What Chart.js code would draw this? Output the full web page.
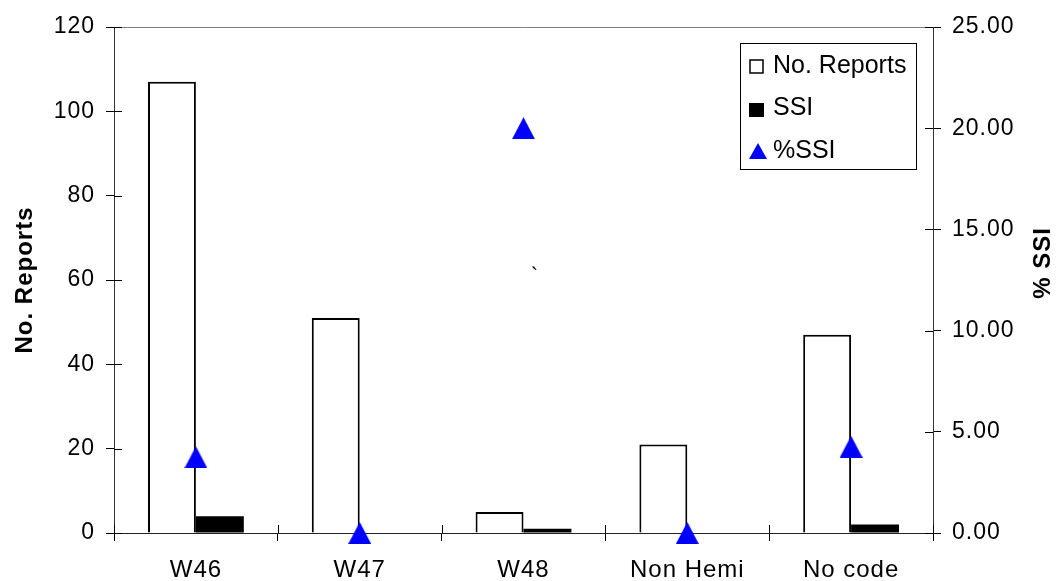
<!DOCTYPE html>
<html><head><meta charset="utf-8">
<script src="https://cdn.jsdelivr.net/npm/chart.js@4/dist/chart.umd.min.js"></script>
<style>html,body{margin:0;padding:0;background:#fff}canvas{display:block}</style>
</head><body>
<canvas id="c" width="1057" height="581"></canvas>
<script>
const categories = ['W46', 'W47', 'W48', 'Non Hemi', 'No code'];
const reports = [107, 51, 5, 21, 47];
const ssi = [4, 0, 1, 0, 2];
const pctSsi = [3.74, 0.00, 20.00, 0.00, 4.26];
const seriesNames = ['No. Reports', 'SSI', '%SSI'];
const leftAxisTitle = 'No. Reports';
const rightAxisTitle = '% SSI';
const strayMark = '`';

const FAM = '"Liberation Sans", Arial, sans-serif';
const BLUE = '#0000FF';

function triImg(w, h) {
  const c = document.createElement('canvas');
  c.width = w; c.height = h;
  const g = c.getContext('2d');
  g.fillStyle = BLUE;
  g.beginPath();
  g.moveTo(w / 2, 0); g.lineTo(w, h); g.lineTo(0, h); g.closePath();
  g.fill();
  return c;
}
const tri = triImg(23, 22);

const spacingPlugin = {
  id: 'spacing',
  beforeLayout(chart) { chart.ctx.letterSpacing = '1px'; },
  beforeDraw(chart) { chart.ctx.letterSpacing = '1px'; }
};

const decorPlugin = {
  id: 'decor',
  afterDraw(chart) {
    const ctx = chart.ctx;
    const a = chart.chartArea;
    const y = chart.scales.y, y2 = chart.scales.y2;
    ctx.save();
    ctx.strokeStyle = '#808080'; ctx.lineWidth = 1;
    ctx.beginPath(); ctx.moveTo(a.left, a.top + 0.5); ctx.lineTo(a.right, a.top + 0.5); ctx.stroke();
    ctx.strokeStyle = '#000';
    ctx.beginPath();
    y.ticks.forEach(t => { const p = Math.round(y.getPixelForValue(t.value)) + 0.5; ctx.moveTo(a.left, p); ctx.lineTo(a.left + 8, p); });
    y2.ticks.forEach(t => { const p = Math.round(y2.getPixelForValue(t.value)) + 0.5; ctx.moveTo(a.right, p); ctx.lineTo(a.right - 8, p); });
    const n = categories.length;
    for (let i = 0; i <= n; i++) {
      const p = Math.round(a.left + i * (a.right - a.left) / n) + 0.5;
      ctx.moveTo(p, a.bottom); ctx.lineTo(p, a.bottom - 8);
    }
    ctx.stroke();

    ctx.letterSpacing = '1px';
    ctx.fillStyle = '#000';
    ctx.font = 'bold 24px ' + FAM;
    ctx.textAlign = 'center'; ctx.textBaseline = 'alphabetic';
    ctx.save(); ctx.translate(32, 280); ctx.rotate(-Math.PI / 2); ctx.fillText(leftAxisTitle, 0, 0); ctx.restore();
    ctx.save(); ctx.translate(1050, 263); ctx.rotate(-Math.PI / 2); ctx.fillText(rightAxisTitle, 0, 0); ctx.restore();

    ctx.font = '22px ' + FAM;
    ctx.fillText(strayMark, 535, 283);

    ctx.letterSpacing = '0px';
    ctx.strokeStyle = '#000'; ctx.lineWidth = 1;
    ctx.strokeRect(740.5, 43.5, 176, 126);
    ctx.fillStyle = '#fff'; ctx.lineWidth = 1.5;
    ctx.fillRect(750, 60, 13, 13); ctx.strokeRect(750, 60, 13, 13);
    ctx.fillStyle = '#000';
    ctx.fillRect(749, 103, 15, 14);
    ctx.fillStyle = BLUE;
    ctx.beginPath(); ctx.moveTo(758, 143); ctx.lineTo(767, 159); ctx.lineTo(749, 159); ctx.closePath(); ctx.fill();
    ctx.fillStyle = '#000';
    ctx.font = '25px ' + FAM; ctx.textAlign = 'left';
    ctx.fillText(seriesNames[0], 773, 73);
    ctx.fillText(seriesNames[1], 773, 115);
    ctx.fillText(seriesNames[2], 773, 158);
    ctx.restore();
  }
};

const tickFont = { family: FAM, size: 23 };

new Chart(document.getElementById('c').getContext('2d'), {
  data: {
    labels: categories,
    datasets: [
      { type: 'bar', label: seriesNames[0], data: reports, yAxisID: 'y', order: 2,
        backgroundColor: '#fff', borderColor: '#000', borderWidth: 2,
        categoryPercentage: 0.585, barPercentage: 1 },
      { type: 'bar', label: seriesNames[1], data: ssi, yAxisID: 'y', order: 2,
        backgroundColor: '#000', borderColor: '#000', borderWidth: 0,
        categoryPercentage: 0.585, barPercentage: 1 },
      { type: 'line', label: seriesNames[2], data: pctSsi, yAxisID: 'y2', order: 0,
        showLine: false, pointStyle: tri, pointRadius: 11, pointHoverRadius: 11,
        backgroundColor: BLUE, borderColor: BLUE, clip: false }
    ]
  },
  options: {
    responsive: false,
    animation: false,
    devicePixelRatio: 1,
    layout: { padding: { top: 27, left: 0, right: 0, bottom: 0 } },
    plugins: { legend: { display: false }, tooltip: { enabled: false } },
    events: [],
    scales: {
      x: {
        type: 'category', offset: true,
        grid: { offset: true, drawOnChartArea: false, drawTicks: true, tickLength: 8, color: '#000' },
        border: { display: true, color: '#222', width: 1 },
        ticks: { font: { family: FAM, size: 24 }, color: '#000', padding: 15, maxRotation: 0, autoSkip: false },
        afterFit(s) { s.height = 48; }
      },
      y: {
        position: 'left', min: 0, max: 120,
        grid: { drawOnChartArea: false, drawTicks: true, tickLength: 8, color: '#000' },
        border: { display: true, color: '#333', width: 1 },
        ticks: { stepSize: 20, font: tickFont, color: '#000', padding: 11 },
        afterFit(s) { s.width = 114; }
      },
      y2: {
        position: 'right', min: 0, max: 25,
        grid: { drawOnChartArea: false, drawTicks: true, tickLength: 8, color: '#000' },
        border: { display: true, color: '#333', width: 1 },
        ticks: { stepSize: 5, font: tickFont, color: '#000', padding: 11, callback: v => Number(v).toFixed(2) },
        afterFit(s) { s.width = 124; }
      }
    }
  },
  plugins: [spacingPlugin, decorPlugin]
});
</script>
</body></html>
